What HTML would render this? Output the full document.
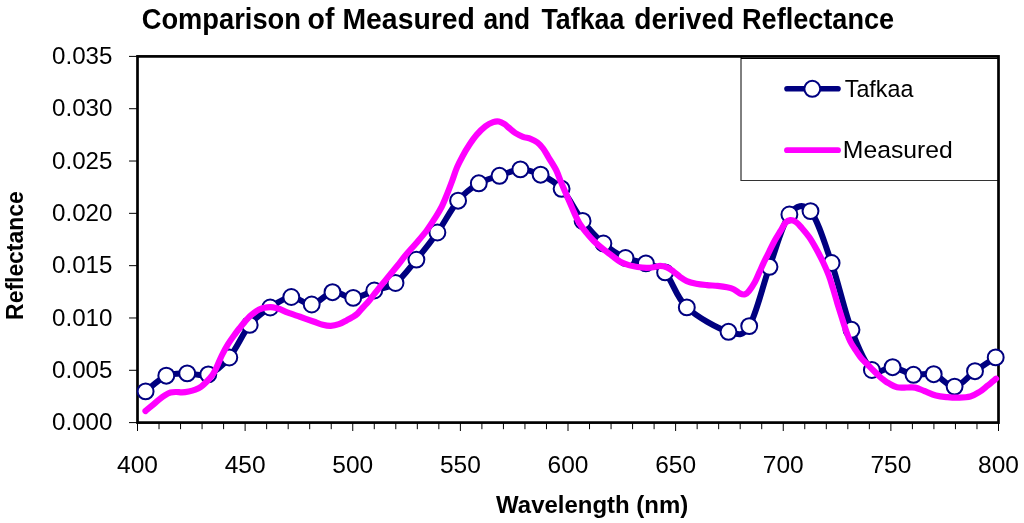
<!DOCTYPE html>
<html><head><meta charset="utf-8"><title>Comparison of Measured and Tafkaa derived Reflectance</title>
<style>
html,body{margin:0;padding:0;background:#fff;width:1024px;height:523px;overflow:hidden;}
svg{display:block;will-change:transform;}
text{font-family:"Liberation Sans", sans-serif;fill:#000;}
.t{font-size:29px;font-weight:bold;}
.at{font-size:24px;font-weight:bold;}
.yl{font-size:24.5px;}
.xl{font-size:24.5px;}
.lg{font-size:24.5px;}
</style></head><body>
<svg width="1024" height="523" viewBox="0 0 1024 523">
<line x1="741" y1="57" x2="741" y2="181" stroke="#000" stroke-width="1"/>
<line x1="741" y1="180.5" x2="998" y2="180.5" stroke="#333" stroke-width="1"/>
<line x1="741" y1="58.3" x2="998" y2="58.3" stroke="#000" stroke-width="1.2"/>
<line x1="787" y1="88.7" x2="838" y2="88.7" stroke="#000080" stroke-width="5.6" stroke-linecap="round"/>
<circle cx="812.3" cy="88.8" r="7.95" fill="#fff" stroke="#000080" stroke-width="2.0"/>
<line x1="787" y1="150.2" x2="838" y2="150.2" stroke="#ff00ff" stroke-width="5.8" stroke-linecap="round"/>
<text x="844.75" y="96.8" class="lg" textLength="68.6" lengthAdjust="spacingAndGlyphs">Tafkaa</text>
<text x="842.8" y="157.9" class="lg" textLength="110" lengthAdjust="spacingAndGlyphs">Measured</text>
<rect x="137.50" y="56.40" width="861.00" height="366.20" fill="none" stroke="#000" stroke-width="2.7"/>
<line x1="129" y1="422.60" x2="137.50" y2="422.60" stroke="#000" stroke-width="1"/>
<text x="52.0" y="430.30" class="yl" textLength="60.4" lengthAdjust="spacingAndGlyphs">0.000</text>
<line x1="129" y1="370.29" x2="137.50" y2="370.29" stroke="#000" stroke-width="1"/>
<text x="52.0" y="377.99" class="yl" textLength="60.4" lengthAdjust="spacingAndGlyphs">0.005</text>
<line x1="129" y1="317.97" x2="137.50" y2="317.97" stroke="#000" stroke-width="1"/>
<text x="52.0" y="325.67" class="yl" textLength="60.4" lengthAdjust="spacingAndGlyphs">0.010</text>
<line x1="129" y1="265.66" x2="137.50" y2="265.66" stroke="#000" stroke-width="1"/>
<text x="52.0" y="273.36" class="yl" textLength="60.4" lengthAdjust="spacingAndGlyphs">0.015</text>
<line x1="129" y1="213.34" x2="137.50" y2="213.34" stroke="#000" stroke-width="1"/>
<text x="52.0" y="221.04" class="yl" textLength="60.4" lengthAdjust="spacingAndGlyphs">0.020</text>
<line x1="129" y1="161.03" x2="137.50" y2="161.03" stroke="#000" stroke-width="1"/>
<text x="52.0" y="168.73" class="yl" textLength="60.4" lengthAdjust="spacingAndGlyphs">0.025</text>
<line x1="129" y1="108.71" x2="137.50" y2="108.71" stroke="#000" stroke-width="1"/>
<text x="52.0" y="116.41" class="yl" textLength="60.4" lengthAdjust="spacingAndGlyphs">0.030</text>
<line x1="129" y1="56.40" x2="137.50" y2="56.40" stroke="#000" stroke-width="1"/>
<text x="52.0" y="64.10" class="yl" textLength="60.4" lengthAdjust="spacingAndGlyphs">0.035</text>
<line x1="137.50" y1="422.60" x2="137.50" y2="431.00" stroke="#000" stroke-width="1"/>
<text x="137.50" y="473" text-anchor="middle" class="xl" textLength="40.9" lengthAdjust="spacingAndGlyphs">400</text>
<line x1="159.03" y1="422.60" x2="159.03" y2="429.20" stroke="#000" stroke-width="1"/>
<line x1="180.55" y1="422.60" x2="180.55" y2="429.20" stroke="#000" stroke-width="1"/>
<line x1="202.07" y1="422.60" x2="202.07" y2="429.20" stroke="#000" stroke-width="1"/>
<line x1="223.60" y1="422.60" x2="223.60" y2="429.20" stroke="#000" stroke-width="1"/>
<line x1="245.12" y1="422.60" x2="245.12" y2="431.00" stroke="#000" stroke-width="1"/>
<text x="245.12" y="473" text-anchor="middle" class="xl" textLength="40.9" lengthAdjust="spacingAndGlyphs">450</text>
<line x1="266.65" y1="422.60" x2="266.65" y2="429.20" stroke="#000" stroke-width="1"/>
<line x1="288.18" y1="422.60" x2="288.18" y2="429.20" stroke="#000" stroke-width="1"/>
<line x1="309.70" y1="422.60" x2="309.70" y2="429.20" stroke="#000" stroke-width="1"/>
<line x1="331.23" y1="422.60" x2="331.23" y2="429.20" stroke="#000" stroke-width="1"/>
<line x1="352.75" y1="422.60" x2="352.75" y2="431.00" stroke="#000" stroke-width="1"/>
<text x="352.75" y="473" text-anchor="middle" class="xl" textLength="40.9" lengthAdjust="spacingAndGlyphs">500</text>
<line x1="374.27" y1="422.60" x2="374.27" y2="429.20" stroke="#000" stroke-width="1"/>
<line x1="395.80" y1="422.60" x2="395.80" y2="429.20" stroke="#000" stroke-width="1"/>
<line x1="417.32" y1="422.60" x2="417.32" y2="429.20" stroke="#000" stroke-width="1"/>
<line x1="438.85" y1="422.60" x2="438.85" y2="429.20" stroke="#000" stroke-width="1"/>
<line x1="460.38" y1="422.60" x2="460.38" y2="431.00" stroke="#000" stroke-width="1"/>
<text x="460.38" y="473" text-anchor="middle" class="xl" textLength="40.9" lengthAdjust="spacingAndGlyphs">550</text>
<line x1="481.90" y1="422.60" x2="481.90" y2="429.20" stroke="#000" stroke-width="1"/>
<line x1="503.43" y1="422.60" x2="503.43" y2="429.20" stroke="#000" stroke-width="1"/>
<line x1="524.95" y1="422.60" x2="524.95" y2="429.20" stroke="#000" stroke-width="1"/>
<line x1="546.48" y1="422.60" x2="546.48" y2="429.20" stroke="#000" stroke-width="1"/>
<line x1="568.00" y1="422.60" x2="568.00" y2="431.00" stroke="#000" stroke-width="1"/>
<text x="568.00" y="473" text-anchor="middle" class="xl" textLength="40.9" lengthAdjust="spacingAndGlyphs">600</text>
<line x1="589.52" y1="422.60" x2="589.52" y2="429.20" stroke="#000" stroke-width="1"/>
<line x1="611.05" y1="422.60" x2="611.05" y2="429.20" stroke="#000" stroke-width="1"/>
<line x1="632.58" y1="422.60" x2="632.58" y2="429.20" stroke="#000" stroke-width="1"/>
<line x1="654.10" y1="422.60" x2="654.10" y2="429.20" stroke="#000" stroke-width="1"/>
<line x1="675.62" y1="422.60" x2="675.62" y2="431.00" stroke="#000" stroke-width="1"/>
<text x="675.62" y="473" text-anchor="middle" class="xl" textLength="40.9" lengthAdjust="spacingAndGlyphs">650</text>
<line x1="697.15" y1="422.60" x2="697.15" y2="429.20" stroke="#000" stroke-width="1"/>
<line x1="718.67" y1="422.60" x2="718.67" y2="429.20" stroke="#000" stroke-width="1"/>
<line x1="740.20" y1="422.60" x2="740.20" y2="429.20" stroke="#000" stroke-width="1"/>
<line x1="761.73" y1="422.60" x2="761.73" y2="429.20" stroke="#000" stroke-width="1"/>
<line x1="783.25" y1="422.60" x2="783.25" y2="431.00" stroke="#000" stroke-width="1"/>
<text x="783.25" y="473" text-anchor="middle" class="xl" textLength="40.9" lengthAdjust="spacingAndGlyphs">700</text>
<line x1="804.77" y1="422.60" x2="804.77" y2="429.20" stroke="#000" stroke-width="1"/>
<line x1="826.30" y1="422.60" x2="826.30" y2="429.20" stroke="#000" stroke-width="1"/>
<line x1="847.83" y1="422.60" x2="847.83" y2="429.20" stroke="#000" stroke-width="1"/>
<line x1="869.35" y1="422.60" x2="869.35" y2="429.20" stroke="#000" stroke-width="1"/>
<line x1="890.88" y1="422.60" x2="890.88" y2="431.00" stroke="#000" stroke-width="1"/>
<text x="890.88" y="473" text-anchor="middle" class="xl" textLength="40.9" lengthAdjust="spacingAndGlyphs">750</text>
<line x1="912.40" y1="422.60" x2="912.40" y2="429.20" stroke="#000" stroke-width="1"/>
<line x1="933.92" y1="422.60" x2="933.92" y2="429.20" stroke="#000" stroke-width="1"/>
<line x1="955.45" y1="422.60" x2="955.45" y2="429.20" stroke="#000" stroke-width="1"/>
<line x1="976.98" y1="422.60" x2="976.98" y2="429.20" stroke="#000" stroke-width="1"/>
<line x1="998.50" y1="422.60" x2="998.50" y2="431.00" stroke="#000" stroke-width="1"/>
<text x="998.50" y="473" text-anchor="middle" class="xl" textLength="40.9" lengthAdjust="spacingAndGlyphs">800</text>
<path d="M145.60,391.40 C149.05,388.78 159.37,378.70 166.30,375.70 C173.23,372.70 180.20,373.62 187.20,373.40 C194.20,373.18 201.28,377.05 208.30,374.40 C215.32,371.75 222.40,365.75 229.30,357.50 C236.20,349.25 242.88,333.23 249.70,324.90 C256.52,316.57 263.27,312.15 270.20,307.50 C277.13,302.85 284.38,297.50 291.30,297.00 C298.22,296.50 304.83,305.30 311.70,304.50 C318.57,303.70 325.58,293.30 332.50,292.20 C339.42,291.10 346.23,298.18 353.20,297.90 C360.17,297.62 367.25,292.98 374.30,290.50 C381.35,288.02 388.48,288.15 395.50,283.00 C402.52,277.85 409.42,268.02 416.40,259.60 C423.38,251.18 430.45,242.32 437.40,232.50 C444.35,222.68 451.20,208.90 458.10,200.70 C465.00,192.50 471.90,187.45 478.80,183.30 C485.70,179.15 492.57,178.12 499.50,175.80 C506.43,173.48 513.55,169.58 520.40,169.40 C527.25,169.22 533.73,171.47 540.60,174.70 C547.47,177.93 554.60,181.10 561.60,188.80 C568.60,196.50 575.63,211.78 582.60,220.90 C589.57,230.02 596.25,237.32 603.40,243.50 C610.55,249.68 618.42,254.68 625.50,258.00 C632.58,261.32 639.30,261.00 645.90,263.40 C652.50,265.80 658.28,265.07 665.10,272.40 C671.92,279.73 676.23,297.50 686.80,307.40 C697.37,317.30 718.10,328.68 728.50,331.80 C738.90,334.92 742.37,336.93 749.20,326.10 C756.03,315.27 762.80,285.40 769.50,266.80 C776.20,248.20 782.57,223.78 789.40,214.50 C796.23,205.22 803.47,203.02 810.50,211.10 C817.53,219.18 824.77,243.22 831.60,263.00 C838.43,282.78 844.78,311.97 851.50,329.80 C858.22,347.63 865.05,363.77 871.90,370.00 C878.75,376.23 885.67,366.40 892.60,367.20 C899.53,368.00 906.65,373.63 913.50,374.80 C920.35,375.97 926.85,372.23 933.70,374.20 C940.55,376.17 947.72,387.10 954.60,386.60 C961.48,386.10 968.15,376.07 975.00,371.20 C981.85,366.33 992.25,359.70 995.70,357.40" fill="none" stroke="#000080" stroke-width="6.0" stroke-linejoin="round" stroke-linecap="round"/>
<circle cx="145.60" cy="391.40" r="7.95" fill="#fff" stroke="#000080" stroke-width="2.0"/>
<circle cx="166.30" cy="375.70" r="7.95" fill="#fff" stroke="#000080" stroke-width="2.0"/>
<circle cx="187.20" cy="373.40" r="7.95" fill="#fff" stroke="#000080" stroke-width="2.0"/>
<circle cx="208.30" cy="374.40" r="7.95" fill="#fff" stroke="#000080" stroke-width="2.0"/>
<circle cx="229.30" cy="357.50" r="7.95" fill="#fff" stroke="#000080" stroke-width="2.0"/>
<circle cx="249.70" cy="324.90" r="7.95" fill="#fff" stroke="#000080" stroke-width="2.0"/>
<circle cx="270.20" cy="307.50" r="7.95" fill="#fff" stroke="#000080" stroke-width="2.0"/>
<circle cx="291.30" cy="297.00" r="7.95" fill="#fff" stroke="#000080" stroke-width="2.0"/>
<circle cx="311.70" cy="304.50" r="7.95" fill="#fff" stroke="#000080" stroke-width="2.0"/>
<circle cx="332.50" cy="292.20" r="7.95" fill="#fff" stroke="#000080" stroke-width="2.0"/>
<circle cx="353.20" cy="297.90" r="7.95" fill="#fff" stroke="#000080" stroke-width="2.0"/>
<circle cx="374.30" cy="290.50" r="7.95" fill="#fff" stroke="#000080" stroke-width="2.0"/>
<circle cx="395.50" cy="283.00" r="7.95" fill="#fff" stroke="#000080" stroke-width="2.0"/>
<circle cx="416.40" cy="259.60" r="7.95" fill="#fff" stroke="#000080" stroke-width="2.0"/>
<circle cx="437.40" cy="232.50" r="7.95" fill="#fff" stroke="#000080" stroke-width="2.0"/>
<circle cx="458.10" cy="200.70" r="7.95" fill="#fff" stroke="#000080" stroke-width="2.0"/>
<circle cx="478.80" cy="183.30" r="7.95" fill="#fff" stroke="#000080" stroke-width="2.0"/>
<circle cx="499.50" cy="175.80" r="7.95" fill="#fff" stroke="#000080" stroke-width="2.0"/>
<circle cx="520.40" cy="169.40" r="7.95" fill="#fff" stroke="#000080" stroke-width="2.0"/>
<circle cx="540.60" cy="174.70" r="7.95" fill="#fff" stroke="#000080" stroke-width="2.0"/>
<circle cx="561.60" cy="188.80" r="7.95" fill="#fff" stroke="#000080" stroke-width="2.0"/>
<circle cx="582.60" cy="220.90" r="7.95" fill="#fff" stroke="#000080" stroke-width="2.0"/>
<circle cx="603.40" cy="243.50" r="7.95" fill="#fff" stroke="#000080" stroke-width="2.0"/>
<circle cx="625.50" cy="258.00" r="7.95" fill="#fff" stroke="#000080" stroke-width="2.0"/>
<circle cx="645.90" cy="263.40" r="7.95" fill="#fff" stroke="#000080" stroke-width="2.0"/>
<circle cx="665.10" cy="272.40" r="7.95" fill="#fff" stroke="#000080" stroke-width="2.0"/>
<circle cx="686.80" cy="307.40" r="7.95" fill="#fff" stroke="#000080" stroke-width="2.0"/>
<circle cx="728.50" cy="331.80" r="7.95" fill="#fff" stroke="#000080" stroke-width="2.0"/>
<circle cx="749.20" cy="326.10" r="7.95" fill="#fff" stroke="#000080" stroke-width="2.0"/>
<circle cx="769.50" cy="266.80" r="7.95" fill="#fff" stroke="#000080" stroke-width="2.0"/>
<circle cx="789.40" cy="214.50" r="7.95" fill="#fff" stroke="#000080" stroke-width="2.0"/>
<circle cx="810.50" cy="211.10" r="7.95" fill="#fff" stroke="#000080" stroke-width="2.0"/>
<circle cx="831.60" cy="263.00" r="7.95" fill="#fff" stroke="#000080" stroke-width="2.0"/>
<circle cx="851.50" cy="329.80" r="7.95" fill="#fff" stroke="#000080" stroke-width="2.0"/>
<circle cx="871.90" cy="370.00" r="7.95" fill="#fff" stroke="#000080" stroke-width="2.0"/>
<circle cx="892.60" cy="367.20" r="7.95" fill="#fff" stroke="#000080" stroke-width="2.0"/>
<circle cx="913.50" cy="374.80" r="7.95" fill="#fff" stroke="#000080" stroke-width="2.0"/>
<circle cx="933.70" cy="374.20" r="7.95" fill="#fff" stroke="#000080" stroke-width="2.0"/>
<circle cx="954.60" cy="386.60" r="7.95" fill="#fff" stroke="#000080" stroke-width="2.0"/>
<circle cx="975.00" cy="371.20" r="7.95" fill="#fff" stroke="#000080" stroke-width="2.0"/>
<circle cx="995.70" cy="357.40" r="7.95" fill="#fff" stroke="#000080" stroke-width="2.0"/>
<path d="M145.50,411.00 C146.63,410.07 150.05,407.30 152.30,405.40 C154.55,403.50 156.92,401.28 159.00,399.60 C161.08,397.92 162.88,396.48 164.80,395.30 C166.72,394.12 168.60,393.05 170.50,392.50 C172.40,391.95 174.28,392.02 176.20,392.00 C178.12,391.98 179.92,392.48 182.00,392.40 C184.08,392.32 186.47,391.97 188.70,391.50 C190.93,391.03 193.33,390.40 195.40,389.60 C197.47,388.80 199.20,388.05 201.10,386.70 C203.00,385.35 204.88,383.48 206.80,381.50 C208.72,379.52 210.98,377.13 212.60,374.80 C214.22,372.47 214.97,370.72 216.50,367.50 C218.03,364.28 219.90,359.35 221.80,355.50 C223.70,351.65 225.67,347.99 227.90,344.38 C230.13,340.77 233.18,336.64 235.20,333.84 C237.22,331.04 238.37,329.64 240.00,327.60 C241.63,325.56 243.40,323.44 245.00,321.60 C246.60,319.76 248.02,318.09 249.60,316.57 C251.18,315.05 252.92,313.65 254.50,312.47 C256.08,311.30 257.43,310.31 259.10,309.51 C260.77,308.72 262.58,308.09 264.50,307.70 C266.42,307.31 268.68,307.17 270.60,307.20 C272.52,307.23 274.35,307.53 276.00,307.90 C277.65,308.27 278.50,308.62 280.50,309.40 C282.50,310.18 284.75,311.37 288.00,312.60 C291.25,313.83 295.77,315.32 300.00,316.80 C304.23,318.28 309.60,320.17 313.40,321.50 C317.20,322.83 319.90,324.07 322.80,324.80 C325.70,325.53 328.12,326.00 330.80,325.90 C333.48,325.80 336.22,325.15 338.90,324.20 C341.58,323.25 344.72,321.33 346.90,320.20 C349.08,319.07 350.23,318.50 352.00,317.40 C353.77,316.30 355.67,315.28 357.50,313.60 C359.33,311.92 361.13,309.37 363.00,307.30 C364.87,305.23 366.77,303.48 368.70,301.20 C370.63,298.92 372.18,296.63 374.60,293.60 C377.02,290.57 380.40,286.43 383.20,283.00 C386.00,279.57 388.93,276.00 391.40,273.00 C393.87,270.00 395.63,267.97 398.00,265.00 C400.37,262.03 402.57,258.83 405.60,255.20 C408.63,251.57 412.68,247.32 416.20,243.20 C419.72,239.08 423.55,234.72 426.70,230.50 C429.85,226.28 432.62,221.82 435.10,217.90 C437.58,213.98 439.57,210.95 441.56,207.00 C443.56,203.05 445.30,198.57 447.07,194.20 C448.85,189.83 450.55,185.27 452.20,180.80 C453.85,176.33 455.25,171.55 457.00,167.40 C458.75,163.25 460.66,159.63 462.70,155.90 C464.74,152.17 466.91,148.54 469.23,145.04 C471.54,141.54 473.87,138.02 476.58,134.90 C479.30,131.78 482.73,128.43 485.50,126.30 C488.27,124.17 490.97,122.90 493.20,122.10 C495.43,121.30 497.00,121.15 498.90,121.50 C500.80,121.85 503.00,123.20 504.60,124.20 C506.20,125.20 506.72,126.03 508.50,127.50 C510.28,128.97 512.88,131.45 515.30,133.00 C517.72,134.55 520.45,135.83 523.00,136.80 C525.55,137.77 528.22,137.87 530.60,138.80 C532.98,139.73 535.22,140.75 537.30,142.37 C539.38,143.99 541.18,145.92 543.10,148.49 C545.02,151.06 546.63,154.22 548.80,157.80 C550.97,161.39 554.12,166.07 556.10,170.00 C558.08,173.93 559.17,177.72 560.70,181.40 C562.23,185.08 563.77,188.53 565.30,192.10 C566.83,195.67 568.37,199.25 569.90,202.80 C571.43,206.35 572.85,209.86 574.50,213.38 C576.15,216.89 577.77,220.58 579.80,223.87 C581.83,227.16 584.42,230.29 586.70,233.10 C588.98,235.91 590.78,238.07 593.50,240.70 C596.22,243.33 599.98,246.45 603.00,248.90 C606.02,251.35 608.73,253.29 611.60,255.43 C614.47,257.56 617.33,260.09 620.20,261.70 C623.07,263.31 625.92,264.22 628.80,265.10 C631.68,265.98 634.55,266.54 637.50,267.00 C640.45,267.46 643.85,267.80 646.50,267.85 C649.15,267.90 651.13,267.62 653.40,267.30 C655.67,266.98 657.87,265.91 660.10,265.91 C662.33,265.91 664.58,266.36 666.80,267.28 C669.02,268.19 671.18,269.78 673.40,271.40 C675.62,273.02 677.87,275.38 680.10,277.00 C682.33,278.62 684.12,279.98 686.80,281.10 C689.48,282.22 692.85,283.03 696.20,283.70 C699.55,284.37 703.33,284.73 706.90,285.10 C710.47,285.47 714.25,285.55 717.60,285.90 C720.95,286.25 724.33,286.65 727.00,287.20 C729.67,287.75 731.38,288.10 733.60,289.17 C735.82,290.24 738.40,292.77 740.30,293.63 C742.20,294.48 743.55,294.75 745.00,294.30 C746.45,293.85 747.34,293.00 749.00,290.95 C750.66,288.90 753.15,285.24 754.93,282.00 C756.72,278.76 758.27,274.65 759.70,271.50 C761.13,268.35 761.92,266.42 763.50,263.10 C765.08,259.78 767.30,255.42 769.20,251.60 C771.10,247.78 772.98,243.70 774.90,240.20 C776.82,236.70 778.95,233.48 780.70,230.60 C782.45,227.72 783.84,224.65 785.42,222.90 C787.01,221.15 788.45,220.25 790.20,220.10 C791.95,219.95 794.00,220.73 795.90,222.00 C797.80,223.27 799.37,225.15 801.60,227.70 C803.83,230.25 806.87,233.78 809.30,237.30 C811.73,240.82 813.88,244.68 816.16,248.80 C818.45,252.92 820.89,257.55 823.00,262.00 C825.11,266.45 827.15,271.13 828.80,275.50 C830.45,279.87 831.50,283.62 832.92,288.20 C834.33,292.78 835.83,298.19 837.28,303.00 C838.74,307.81 840.12,312.22 841.66,317.06 C843.19,321.89 845.06,327.93 846.50,332.00 C847.94,336.07 848.90,338.67 850.30,341.50 C851.70,344.33 853.12,346.27 854.90,349.00 C856.68,351.73 858.97,355.40 861.00,357.90 C863.03,360.40 865.07,361.94 867.10,364.00 C869.13,366.06 871.17,368.22 873.20,370.26 C875.23,372.29 877.52,374.56 879.30,376.19 C881.08,377.82 882.32,378.83 883.90,380.02 C885.48,381.21 886.62,382.09 888.80,383.30 C890.98,384.51 893.93,386.60 897.00,387.30 C900.07,388.00 904.17,387.45 907.20,387.50 C910.23,387.55 912.33,387.02 915.20,387.60 C918.07,388.18 920.95,389.68 924.40,391.00 C927.85,392.32 932.08,394.47 935.90,395.50 C939.72,396.53 943.48,396.83 947.30,397.20 C951.12,397.57 954.97,397.80 958.80,397.70 C962.63,397.60 966.87,397.55 970.30,396.60 C973.73,395.65 976.53,393.82 979.40,392.00 C982.27,390.18 984.73,387.92 987.50,385.70 C990.27,383.48 994.58,379.87 996.00,378.70" fill="none" stroke="#ff00ff" stroke-width="6.2" stroke-linejoin="round" stroke-linecap="round"/>
<text x="141.76" y="28.7" class="t" textLength="159.16" lengthAdjust="spacingAndGlyphs">Comparison</text>
<text x="307.62" y="28.7" class="t" textLength="26.77" lengthAdjust="spacingAndGlyphs">of</text>
<text x="342.44" y="28.7" class="t" textLength="132.52" lengthAdjust="spacingAndGlyphs">Measured</text>
<text x="483.39" y="28.7" class="t" textLength="46.83" lengthAdjust="spacingAndGlyphs">and</text>
<text x="541.5" y="28.7" class="t" textLength="82.76" lengthAdjust="spacingAndGlyphs">Tafkaa</text>
<text x="634.23" y="28.7" class="t" textLength="100.08" lengthAdjust="spacingAndGlyphs">derived</text>
<text x="742.03" y="28.7" class="t" textLength="152.13" lengthAdjust="spacingAndGlyphs">Reflectance</text>
<text x="496.1" y="513.1" class="at" textLength="192.1" lengthAdjust="spacingAndGlyphs">Wavelength (nm)</text>
<text transform="translate(22.8,319.9) rotate(-90)" x="0" y="0" class="at" textLength="128.6" lengthAdjust="spacingAndGlyphs">Reflectance</text>
</svg>
</body></html>
